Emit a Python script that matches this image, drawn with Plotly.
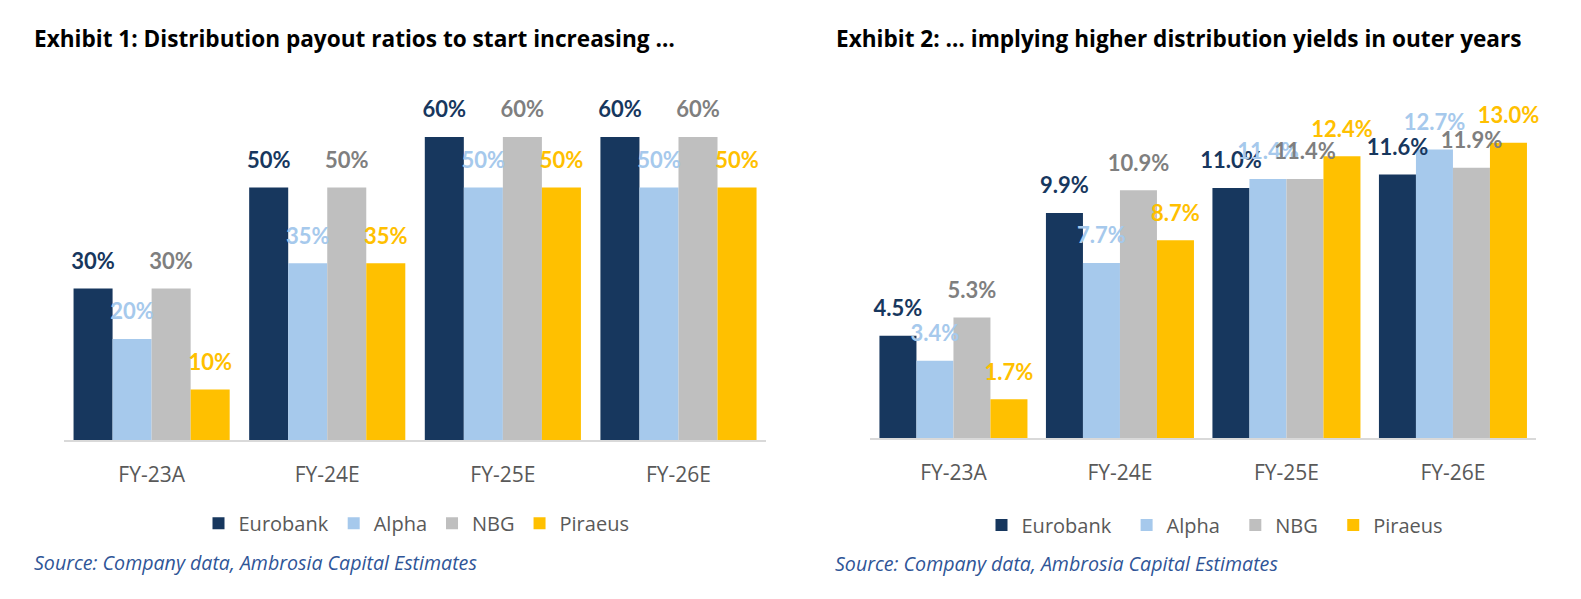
import plotly.graph_objects as go

categories = ["FY-23A", "FY-24E", "FY-25E", "FY-26E"]
banks = ["Eurobank", "Alpha", "NBG", "Piraeus"]

payout_eurobank = [30, 50, 60, 60]
payout_alpha = [20, 35, 50, 50]
payout_nbg = [30, 50, 60, 60]
payout_piraeus = [10, 35, 50, 50]

yield_eurobank = [4.5, 9.9, 11.0, 11.6]
yield_alpha = [3.4, 7.7, 11.4, 12.7]
yield_nbg = [5.3, 10.9, 11.4, 11.9]
yield_piraeus = [1.7, 8.7, 12.4, 13.0]

bar_colors = ["#17375E", "#A6C9EC", "#BFBFBF", "#FFC000"]
label_colors = ["#17375E", "#A6C9EC", "#7F7F7F", "#FFC000"]

payout = [payout_eurobank, payout_alpha, payout_nbg, payout_piraeus]
yields = [yield_eurobank, yield_alpha, yield_nbg, yield_piraeus]

# page body has an 8px default margin: the figure is sized to fill the rest of the window
OFF = 8
W, H = 1581 - OFF, 599 - OFF


def px(x):
    return (x - OFF) / W


def py(y):
    return 1 - (y - OFF) / H


LABEL_FONT = "Lato"
BODY_FONT = "Open Sans"

fig = go.Figure()


def add_panel(values, xa, ya, legend_name, fmt, names):
    for i, name in enumerate(banks):
        fig.add_trace(go.Bar(
            x=categories, y=values[i], name=names[i],
            marker=dict(color=bar_colors[i], line=dict(width=0)),
            xaxis=xa, yaxis=ya, legend=legend_name,
            offsetgroup=name, hoverinfo="skip",
        ))
    for i, name in enumerate(banks):
        fig.add_trace(go.Scatter(
            x=categories, y=values[i], mode="markers+text",
            text=[fmt.format(v) for v in values[i]],
            textposition="top center",
            textfont=dict(family=LABEL_FONT, size=22, color=label_colors[i], weight="bold"),
            marker=dict(size=21, opacity=0),
            xaxis=xa, yaxis=ya, showlegend=False, offsetgroup=name,
            cliponaxis=False, hoverinfo="skip",
        ))


NB = "\u00a0"
add_panel(payout, "x", "y", "legend", "{:.0f}%", banks)
add_panel(yields, "x2", "y2", "legend2", "{:.1f}%", [b + NB * 2 for b in banks[:-1]] + [banks[-1]])

axis_common = dict(
    showgrid=False, zeroline=False, showline=True, linecolor="#D9D9D9", linewidth=2,
    ticks="", tickfont=dict(family=BODY_FONT, size=21, color="#595959"),
    ticklabelstandoff=15, fixedrange=True,
)
yaxis_common = dict(showgrid=False, zeroline=False, showline=False, showticklabels=False, fixedrange=True)

fig.update_layout(
    width=W, height=H,
    margin=dict(l=0, r=0, t=0, b=0),
    paper_bgcolor="white", plot_bgcolor="white",
    barmode="group", bargap=0.111, bargroupgap=0,
    scattermode="group", scattergap=0.111,
    xaxis=dict(domain=[px(63.8), px(766.3)], anchor="y", **axis_common),
    xaxis2=dict(domain=[px(870.2), px(1536.2)], anchor="y2", **axis_common),
    yaxis=dict(domain=[py(440), py(86.5)], range=[0, 70], anchor="x", **yaxis_common),
    yaxis2=dict(domain=[py(437.9), py(97.25)], range=[0, 15], anchor="x2", **yaxis_common),
    legend=dict(orientation="h", x=px(198.5), xanchor="left", y=py(523.3), yanchor="middle",
                font=dict(family=BODY_FONT, size=20, color="#595959"), bgcolor="rgba(0,0,0,0)"),
    legend2=dict(orientation="h", x=px(981.5), xanchor="left", y=py(525), yanchor="middle",
                 font=dict(family=BODY_FONT, size=20, color="#595959"), bgcolor="rgba(0,0,0,0)"),
    showlegend=True,
)

titles = [
    ("Exhibit 1: Distribution payout ratios to start increasing …", 31.6),
    ("Exhibit 2: … implying higher distribution yields in outer years", 833.9),
]
for t, xp in titles:
    fig.add_annotation(text=t, x=px(xp), y=py(38), xref="paper", yref="paper",
                       xanchor="left", yanchor="middle", showarrow=False,
                       font=dict(family=BODY_FONT, size=22.6, color="#000000", weight="bold"))

for xp, yp in [(31.7, 562.3), (832.9, 563.3)]:
    fig.add_annotation(text="<i>Source: Company data, Ambrosia Capital Estimates</i>",
                       x=px(xp), y=py(yp), xref="paper", yref="paper",
                       xanchor="left", yanchor="middle", showarrow=False,
                       font=dict(family=BODY_FONT, size=19.6, color="#2F5597"))

fig.write_html("out.html", config={"displayModeBar": False})
